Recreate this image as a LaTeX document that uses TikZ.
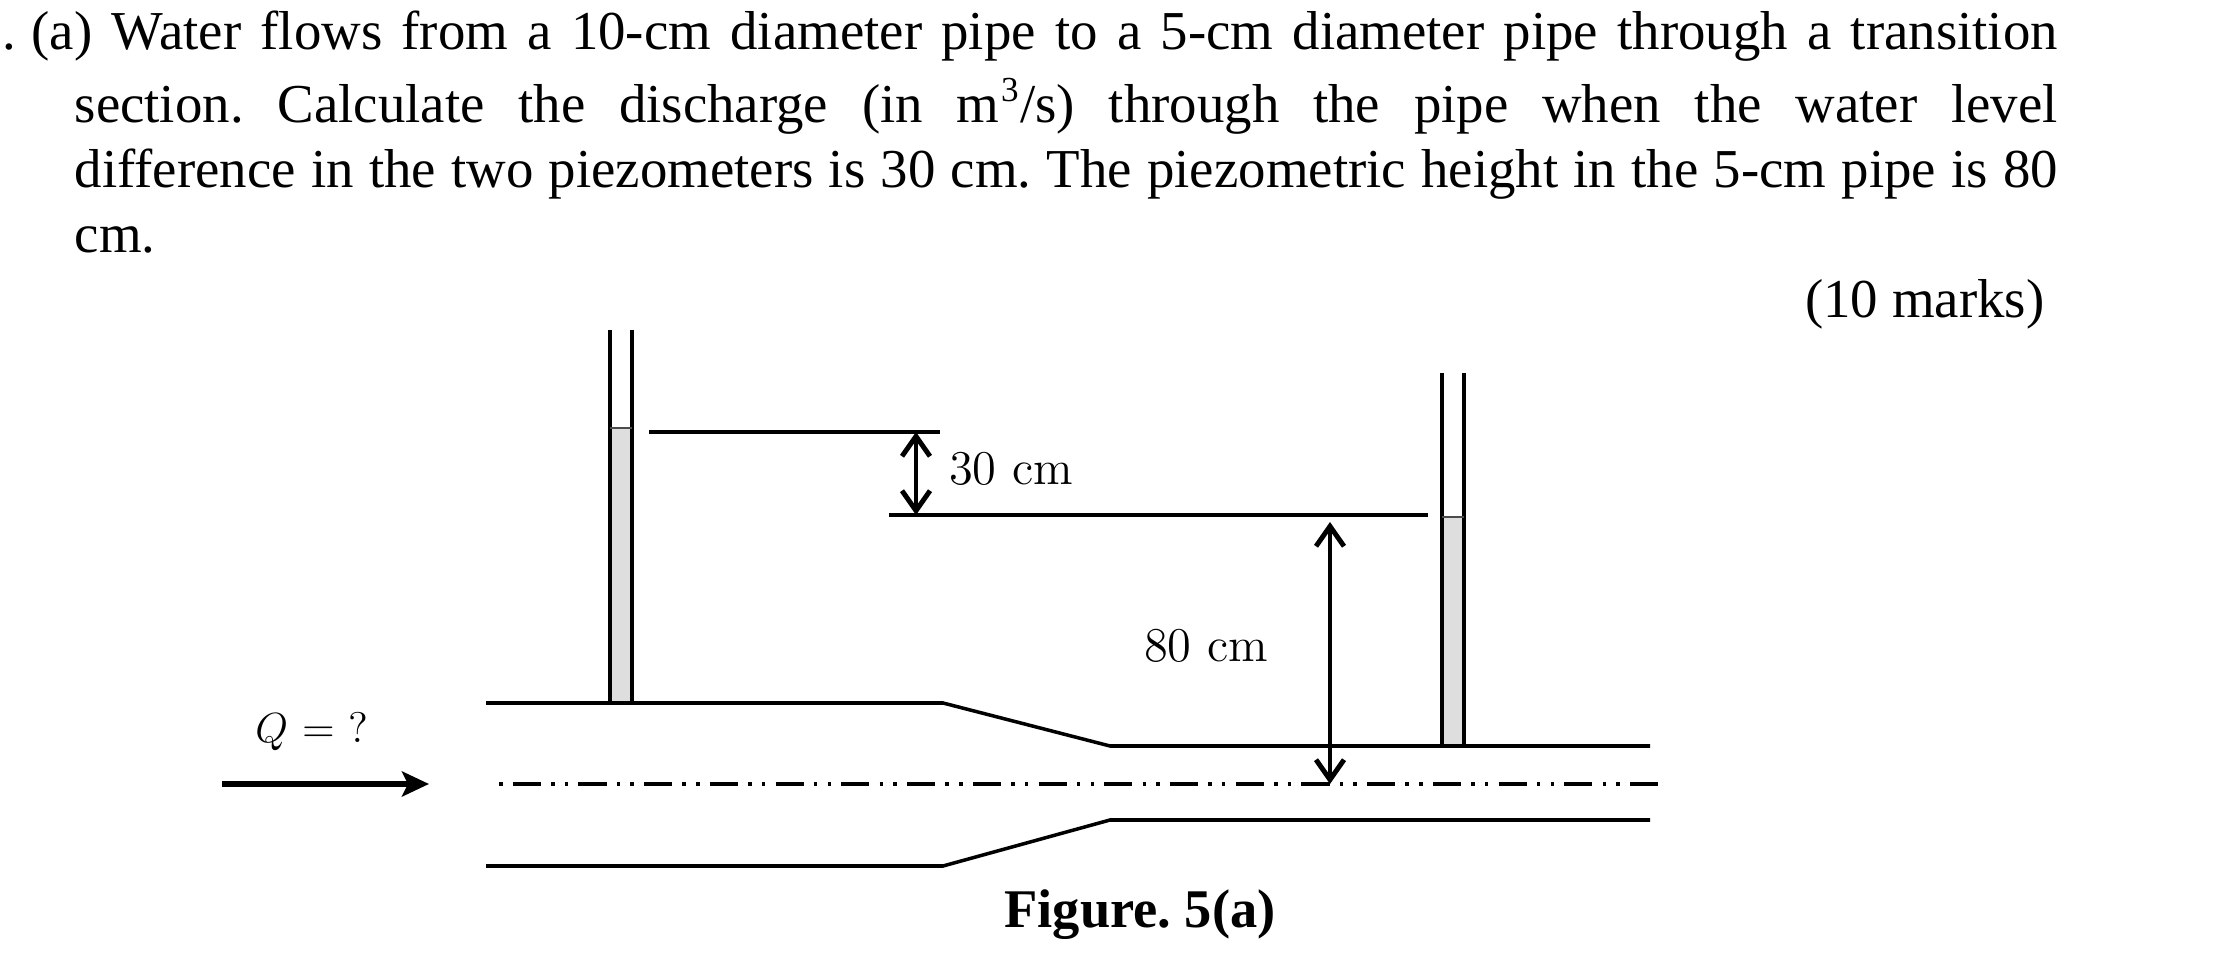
\documentclass[tikz,border=0pt]{standalone}
\usepackage{fontspec}
\newfontfamily\questionfont{Liberation Serif}
\frenchspacing
\usetikzlibrary{arrows.meta}
\definecolor{watergray}{HTML}{DEDEDE}
\tikzset{
    pipeline/.style={line width=1pt},
    level/.style={line width=1pt},
    dimline/.style={line width=1.4pt, {Straight Barb[length=0.2cm,width=0.28cm,line width=1.4pt]}-{Straight Barb[length=0.2cm,width=0.28cm,line width=1.4pt]}},
    axisline/.style={line width=1.1pt, dash pattern=on 1pt off 2.9pt on 8pt off 2.9pt on 1pt off 2.9pt},
    textline/.style={anchor=base west, inner sep=0pt, font=\questionfont\fontsize{15.6}{18}\selectfont},
    dimlabel/.style={inner sep=0pt, font=\fontsize{13.8}{16}\selectfont}
}
\begin{document}
\begin{tikzpicture}
            \useasboundingbox (0,0) rectangle (22.23,-9.71);
            % question text
            \node[textline] (dot) at (0.02,-0.5) {.};
            \node[textline] (lineone) at (0.31,-0.5) {\makebox[20.26cm][s]{(a) Water flows from a 10-cm diameter pipe to a 5-cm diameter pipe through a transition}};
            \node[textline] (linetwo) at (0.74,-1.23) {\makebox[19.83cm][s]{section. Calculate the discharge (in m\kern0.5pt\raisebox{0.85ex}{\fontsize{10}{12}\selectfont 3}\kern0.5pt/s) through the pipe when the water level}};
            \node[textline] (linethree) at (0.74,-1.88) {\makebox[19.83cm][s]{difference in the two piezometers is 30 cm. The piezometric height in the 5-cm pipe is 80}};
            \node[textline] (linefour) at (0.74,-2.53) {cm.};
            \node[textline, anchor=base east] (marks) at (20.45,-3.18) {(10 marks)};
            % water columns
            \fill[watergray] (6.1,-4.28) rectangle (6.32,-7.03);
            \fill[watergray] (14.42,-5.17) rectangle (14.64,-7.46);
            % piezometers
            \draw[pipeline] (6.1,-3.3) -- (6.1,-7.03);
            \draw[pipeline] (6.32,-3.3) -- (6.32,-7.03);
            \draw[pipeline] (14.42,-3.73) -- (14.42,-7.46);
            \draw[pipeline] (14.64,-3.73) -- (14.64,-7.46);
            \draw[line width=0.8pt, black!70] (6.1,-4.28) -- (6.32,-4.28);
            \draw[line width=0.8pt, black!70] (14.42,-5.17) -- (14.64,-5.17);
            % pipe walls
            \draw[pipeline] (4.86,-7.03) -- (9.43,-7.03) -- (11.1,-7.46) -- (16.5,-7.46);
            \draw[pipeline] (4.86,-8.66) -- (9.43,-8.66) -- (11.1,-8.2) -- (16.5,-8.2);
            \draw[axisline] (4.99,-7.84) -- (16.59,-7.84);
            % levels
            \coordinate (highleft) at (6.49,-4.32);
            \coordinate (highright) at (9.4,-4.32);
            \coordinate (lowleft) at (8.89,-5.15);
            \coordinate (lowright) at (14.28,-5.15);
            \draw[level] (highleft) -- (highright);
            \draw[level] (lowleft) -- (lowright);
            % dimensions
            \coordinate (thirtytop) at (9.16,-4.32);
            \coordinate (thirtybottom) at (9.16,-5.15);
            \coordinate (eightytop) at (13.3,-5.22);
            \coordinate (eightybottom) at (13.3,-7.84);
            \draw[dimline] (thirtytop) -- (thirtybottom);
            \draw[dimline] (eightytop) -- (eightybottom);
            \node[dimlabel] (thirty) at (10.11,-4.69) {30 cm};
            \node[dimlabel] (eighty) at (12.06,-6.46) {80 cm};
            % flow arrow
            \coordinate (flowstart) at (2.22,-7.84);
            \coordinate (flowend) at (4.29,-7.84);
            \draw[line width=1.6pt, -{Stealth[length=0.27cm,width=0.25cm,inset=0.06cm]}] (flowstart) -- (flowend);
            \node[dimlabel, font=\fontsize{12.2}{15}\selectfont] (flow) at (3.12,-7.32) {$Q$ = ?};
            \node[inner sep=0pt, font=\questionfont\bfseries\fontsize{15.5}{18}\selectfont] (caption) at (11.4,-9.15) {Figure. 5(a)};
        \end{tikzpicture}
\end{document}
